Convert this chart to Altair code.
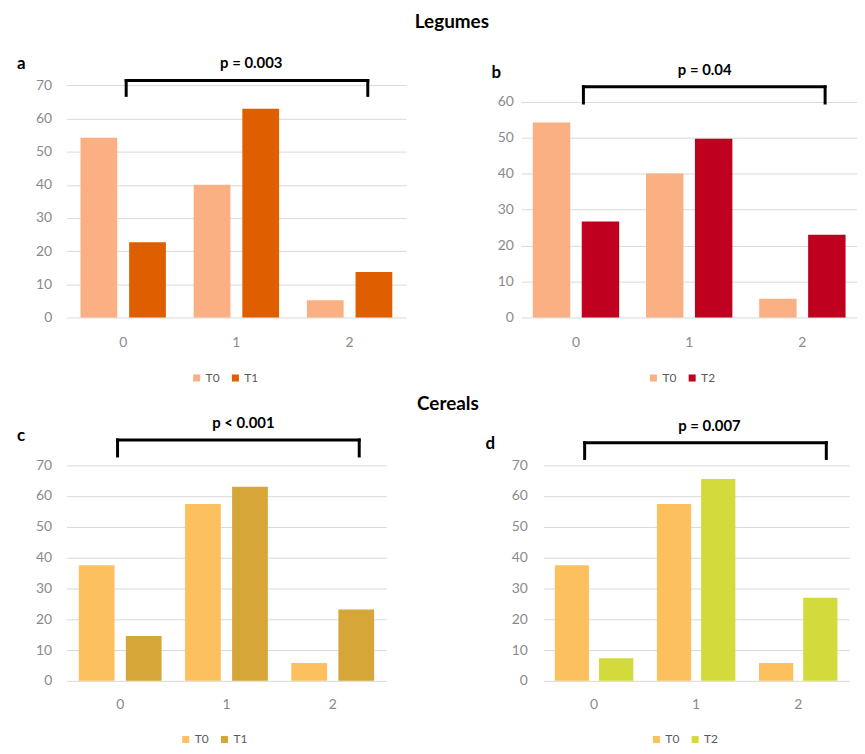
import altair as alt
import pandas as pd

categories = ["0", "1", "2"]

legumes_t0 = [54.2, 40.0, 5.2]
legumes_t1 = [22.7, 63.0, 13.7]
legumes_t2 = [26.7, 49.7, 23.0]

cereals_t0 = [37.5, 57.4, 5.8]
cereals_t1 = [14.6, 63.0, 23.2]
cereals_t2 = [7.3, 65.5, 27.0]

p_labels = ["p = 0.003", "p = 0.04", "p < 0.001", "p = 0.007"]
panel_letters = ["a", "b", "c", "d"]

COL_LEG_T0 = "#FAB082"
COL_LEG_T1 = "#DF5E00"
COL_LEG_T2 = "#C0001F"
COL_CER_T0 = "#FCC05F"
COL_CER_T1 = "#D6A738"
COL_CER_T2 = "#D3DA3C"

FONT = "Lato"
GRID = "#d9d9d9"
LABEL = "#8a8a8a"


def panel(t0, tx, tx_name, colors, width, height, ymax, yticks,
          pi, po, pi2, xlabpad, ylabpad,
          br_top, br_bottom, br_left, br_right, p_y, p_pos, p_text,
          letter, letter_dx, letter_dy, leg_x, leg_y):
    df = pd.DataFrame({
        "cat": categories * 2,
        "series": ["T0"] * 3 + [tx_name] * 3,
        "value": t0 + tx,
    })
    xscale = alt.Scale(domain=categories, paddingInner=pi, paddingOuter=po)
    xaxis = alt.Axis(labelAngle=0, domain=False, ticks=False, grid=False,
                     labelPadding=xlabpad, labelFontSize=14, labelFont=FONT,
                     labelColor=LABEL)
    yscale = alt.Scale(domain=[0, ymax], nice=False, zero=True)
    yaxis = alt.Axis(values=yticks, domain=False, ticks=False, grid=True,
                     gridColor=GRID, gridWidth=1, labelPadding=ylabpad,
                     labelFontSize=14, labelFont=FONT, labelColor=LABEL)

    def X(field, **kw):
        return alt.X(field, title=None, scale=xscale, axis=xaxis, **kw)

    def Y(field):
        return alt.Y(field, title=None, scale=yscale, axis=yaxis)

    bars = alt.Chart(df).mark_bar().encode(
        x=X("cat:N"),
        xOffset=alt.XOffset("series:N", sort=["T0", tx_name],
                            scale=alt.Scale(domain=["T0", tx_name],
                                            paddingInner=pi2, paddingOuter=0)),
        y=Y("value:Q"),
        color=alt.Color("series:N", sort=["T0", tx_name],
                        scale=alt.Scale(domain=["T0", tx_name], range=colors),
                        legend=alt.Legend(orient="none", legendX=leg_x, legendY=leg_y,
                                          direction="horizontal", title=None,
                                          symbolType="square", symbolSize=50,
                                          symbolStrokeWidth=0, labelFontSize=12,
                                          labelFont=FONT, labelColor="#595959",
                                          labelOffset=3, columnPadding=9)),
    )
    bdf = pd.DataFrame({"cat": [categories[0]], "cat2": [categories[2]],
                        "top": [br_top], "bottom": [br_bottom]})
    rdf = pd.DataFrame({"cat": [categories[2]], "top": [br_top], "bottom": [br_bottom]})
    rule_style = dict(color="black", strokeWidth=3, strokeCap="square")
    horiz = alt.Chart(bdf).mark_rule(**rule_style).encode(
        x=X("cat:N", bandPosition=br_left),
        x2=alt.X2("cat2:N", bandPosition=br_right),
        y=Y("top:Q"),
    )
    leg_l = alt.Chart(bdf).mark_rule(**rule_style).encode(
        x=X("cat:N", bandPosition=br_left),
        y=Y("top:Q"),
        y2="bottom:Q",
    )
    leg_r = alt.Chart(rdf).mark_rule(**rule_style).encode(
        x=X("cat:N", bandPosition=br_right),
        y=Y("top:Q"),
        y2="bottom:Q",
    )
    tdf = pd.DataFrame({"cat": [categories[1]], "y": [p_y], "t": [p_text]})
    ptxt = alt.Chart(tdf).mark_text(font=FONT, fontSize=15, fontWeight="bold",
                                    color="black", align="center", baseline="middle").encode(
        x=X("cat:N", bandPosition=p_pos),
        y=Y("y:Q"),
        text="t:N",
    )
    return alt.layer(bars, horiz, leg_l, leg_r, ptxt).properties(
        width=width, height=height,
        title=alt.TitleParams(letter, anchor="start", frame="group", dx=letter_dx,
                              dy=letter_dy, fontSize=17, font=FONT,
                              fontWeight="bold", color="black"),
    )


ticks70 = [0, 10, 20, 30, 40, 50, 60, 70]
ticks60 = [0, 10, 20, 30, 40, 50, 60]

pa = panel(legumes_t0, legumes_t1, "T1", [COL_LEG_T0, COL_LEG_T1], 342, 267, 80, ticks70,
           0.2456, 0.1228, 0.245, 18, 15,
           71.5, 67.0, 0.535, 0.713, 76.8, 0.674, p_labels[0],
           panel_letters[0], -50, 25, 125, 322)
pb = panel(legumes_t0, legumes_t2, "T2", [COL_LEG_T0, COL_LEG_T2], 338, 267, 73.7, ticks60,
           0.237, 0.101, 0.235, 18, 8,
           64.1, 59.6, 0.586, 0.763, 68.75, 0.68, p_labels[1],
           panel_letters[1], -30, 34, 127, 322)
pc = panel(cereals_t0, cereals_t1, "T1", [COL_CER_T0, COL_CER_T1], 322, 273, 88, ticks70,
           0.2206, 0.1148, 0.24, 17, 15,
           78.2, 73.0, 0.468, 0.82, 83.8, 0.704, p_labels[2],
           panel_letters[2], -50, 39, 114, 326)
pd_ = panel(cereals_t0, cereals_t2, "T2", [COL_CER_T0, COL_CER_T2], 308, 273, 88, ticks70,
            0.2315, 0.1138, 0.225, 17, 16,
            77.3, 72.2, 0.38, 0.858, 82.7, 0.67, p_labels[3],
            panel_letters[3], -58, 48, 108, 326)

row1 = alt.hconcat(pa, pb, spacing=116, bounds="flush").resolve_scale(
    x="independent", y="independent", color="independent", xOffset="independent"
).properties(title=alt.TitleParams("Legumes", anchor="middle", fontSize=19, font=FONT,
                                   fontWeight="bold", color="black", dx=15, offset=20))
row2 = alt.hconcat(pc, pd_, spacing=158, bounds="flush").resolve_scale(
    x="independent", y="independent", color="independent", xOffset="independent"
).properties(title=alt.TitleParams("Cereals", anchor="middle", fontSize=19, font=FONT,
                                   fontWeight="bold", color="black", dx=15, offset=-4))

chart = alt.vconcat(row1, row2, spacing=11).resolve_scale(
    x="independent", y="independent", color="independent", xOffset="independent"
).properties(
    padding={"left": 9, "top": 3, "right": 0, "bottom": 0}
).configure(font=FONT, view=alt.ViewConfig(stroke=None))

chart.save("out.html", embed_options={"renderer": "svg", "actions": False})
